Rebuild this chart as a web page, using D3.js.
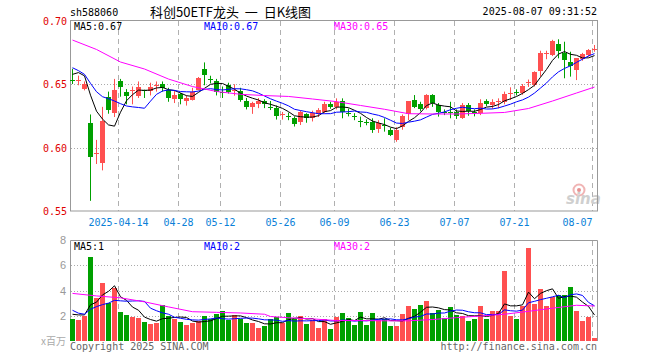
<!DOCTYPE html>
<html>
<head>
<meta charset="utf-8">
<script src="https://cdn.jsdelivr.net/npm/d3@7"></script>
<style>
body { margin: 0; background: #fff; }
svg text { font-family: "DejaVu Sans Mono", monospace; font-size: 10px; }
</style>
</head>
<body>
<div id="chart"></div>
<script>
// trading days shown
var dates = [
  "2025-04-01","2025-04-02","2025-04-03","2025-04-07","2025-04-08","2025-04-09","2025-04-10","2025-04-11",
  "2025-04-14","2025-04-15","2025-04-16","2025-04-17","2025-04-18","2025-04-21","2025-04-22","2025-04-23",
  "2025-04-24","2025-04-25","2025-04-28","2025-04-29","2025-04-30",
  "2025-05-06","2025-05-07","2025-05-08","2025-05-09","2025-05-12","2025-05-13","2025-05-14","2025-05-15",
  "2025-05-16","2025-05-19","2025-05-20","2025-05-21","2025-05-22","2025-05-23","2025-05-26","2025-05-27",
  "2025-05-28","2025-05-29","2025-05-30",
  "2025-06-03","2025-06-04","2025-06-05","2025-06-06","2025-06-09","2025-06-10","2025-06-11","2025-06-12",
  "2025-06-13","2025-06-16","2025-06-17","2025-06-18","2025-06-19","2025-06-20","2025-06-23","2025-06-24",
  "2025-06-25","2025-06-26","2025-06-27","2025-06-30",
  "2025-07-01","2025-07-02","2025-07-03","2025-07-04","2025-07-07","2025-07-08","2025-07-09","2025-07-10",
  "2025-07-11","2025-07-14","2025-07-15","2025-07-16","2025-07-17","2025-07-18","2025-07-21","2025-07-22",
  "2025-07-23","2025-07-24","2025-07-25","2025-07-28","2025-07-29","2025-07-30","2025-07-31",
  "2025-08-01","2025-08-04","2025-08-05","2025-08-06","2025-08-07"
];

var open = [
  0.653,0.652,0.646,0.619,0.595,0.588,0.640,0.627,0.652,0.644,
  0.644,0.641,0.645,0.645,0.649,0.650,0.645,0.638,0.642,0.637,
  0.638,0.6455,0.662,0.654,0.652,0.644,0.6495,0.645,0.6445,0.6365,
  0.632,0.6345,0.637,0.632,0.631,0.626,0.6245,0.623,0.6195,0.626,
  0.6227,0.626,0.628,0.6343,0.632,0.637,0.627,0.6245,0.6205,0.620,
  0.620,0.6143,0.618,0.6138,0.606,0.616,0.6264,0.6374,0.6343,0.6313,
  0.6413,0.6335,0.6282,0.6282,0.6282,0.6235,0.6335,0.628,0.627,0.6366,
  0.6335,0.6362,0.636,0.642,0.6437,0.643,0.651,0.6492,0.6602,0.6738,
  0.6728,0.6815,0.6742,0.6671,0.6605,0.6694,0.6728,0.6772
];
var high = [
  0.662,0.6566,0.652,0.626,0.606,0.632,0.644,0.654,0.654,0.646,
  0.648,0.652,0.6455,0.651,0.652,0.652,0.647,0.645,0.643,0.641,
  0.647,0.6555,0.667,0.6565,0.654,0.648,0.651,0.6498,0.647,0.639,
  0.636,0.639,0.638,0.6366,0.633,0.628,0.6275,0.6245,0.629,0.627,
  0.629,0.631,0.636,0.636,0.6387,0.6387,0.6307,0.627,0.6243,0.6222,
  0.623,0.6215,0.623,0.6155,0.616,0.626,0.6366,0.6413,0.636,0.642,
  0.642,0.635,0.630,0.636,0.630,0.635,0.635,0.630,0.638,0.638,
  0.638,0.6387,0.644,0.6474,0.6458,0.650,0.6535,0.660,0.6762,0.6762,
  0.6848,0.6852,0.6833,0.6754,0.6702,0.6745,0.6775,0.6807
];
var low = [
  0.650,0.649,0.645,0.558,0.587,0.582,0.6266,0.624,0.640,0.634,
  0.634,0.639,0.639,0.641,0.644,0.644,0.636,0.635,0.634,0.633,
  0.637,0.645,0.649,0.6505,0.641,0.639,0.6425,0.6408,0.636,0.630,
  0.6265,0.631,0.631,0.6295,0.622,0.622,0.6215,0.6165,0.6177,0.6195,
  0.6205,0.624,0.627,0.6305,0.630,0.623,0.6245,0.6215,0.616,0.6175,
  0.6115,0.6115,0.6125,0.609,0.6045,0.614,0.6215,0.631,0.6285,0.630,
  0.632,0.6243,0.6255,0.623,0.6225,0.6225,0.625,0.6245,0.6255,0.6325,
  0.6305,0.6309,0.634,0.6374,0.641,0.6415,0.6477,0.648,0.6558,0.6695,
  0.672,0.6702,0.6545,0.6558,0.6531,0.6683,0.6715,0.6754
];
var close = [
  0.652,0.653,0.650,0.592,0.596,0.621,0.630,0.645,0.647,0.641,
  0.645,0.648,0.644,0.648,0.6495,0.647,0.639,0.641,0.638,0.639,
  0.644,0.655,0.657,0.6535,0.643,0.6435,0.644,0.6455,0.6375,0.632,
  0.635,0.637,0.6345,0.6315,0.6245,0.6265,0.624,0.6185,0.6277,0.6227,
  0.627,0.6293,0.6343,0.632,0.636,0.628,0.6265,0.624,0.620,0.6197,
  0.614,0.619,0.6175,0.610,0.6138,0.6248,0.6366,0.632,0.6303,0.6413,
  0.6353,0.628,0.628,0.6277,0.6248,0.6335,0.629,0.6275,0.6348,0.6343,
  0.636,0.6366,0.6421,0.6427,0.6433,0.6484,0.6513,0.6592,0.6742,0.6742,
  0.6841,0.6762,0.6689,0.6636,0.6702,0.6736,0.6768,0.6776
];
// closes of the nine sessions before 04-01 (for the first MA points)
var prevCloses = [0.676,0.679,0.663,0.662,0.660,0.646,0.663,0.668,0.659];

// MA30
var ma30Idx = [0,4,8,12,16,20,24,28,32,36,40,44,48,52,56,60,64,68,72,76,80,84,87];
var ma30Val = [0.6846,0.6772,0.6673,0.6618,0.6539,0.6480,0.6441,0.6419,0.6409,0.6402,0.6382,0.6361,
               0.6331,0.6301,0.6266,0.6264,0.6264,0.6269,0.6276,0.6307,0.6366,0.6429,0.6476];

// volume, millions
var volume = [
  1.71,1.63,1.98,6.65,3.41,4.58,3.04,4.2,2.27,2.03,
  1.9,1.79,1.47,1.31,1.39,2.88,1.98,1.77,1.47,1.23,
  1.45,1.58,1.98,1.77,2.11,2.35,1.63,2.09,1.77,1.42,
  1.42,1.02,1.18,1.71,1.9,1.45,2.21,1.71,1.98,1.34,
  1.63,1.02,1.71,0.92,1.9,2.21,1.82,1.23,2.29,1.23,
  2.21,1.69,1.77,1.18,1.18,2.11,2.77,2.51,2.83,3.14,
  2.21,2.43,1.82,2.67,2.03,1.95,1.55,1.77,2.75,1.71,
  2.35,2.35,5.53,1.98,1.71,2.75,7.39,2.91,4.1,2.77,
  3.49,3.62,3.62,4.28,2.35,1.55,1.9,0.2
];
var prevVolume = [3.93,2.78,2.75,1.31,2.98,1.88,1.98,2.65,2.36];
var vma30Idx = [0,4,8,12,16,20,24,28,32,33,36,40,44,48,52,56,60,64,68,72,76,80,84,87];
var vma30Val = [3.77,3.57,3.42,3.1,2.7,2.32,2.27,2.22,2.12,1.94,1.84,1.75,1.62,1.62,1.6,1.6,
                1.7,1.85,1.98,2.12,2.35,2.6,2.83,2.77];
var volMaText = ["MA5:1","MA10:2","MA30:2"];

var priceTicks = [0.70,0.65,0.60,0.55];
var volTicks = [8,6,4,2];
var dateTicks = ["2025-04-14","2025-04-28","2025-05-12","2025-05-26","2025-06-09",
                 "2025-06-23","2025-07-07","2025-07-21","2025-08-07"];
var dateLabels = ["2025-04-14","04-28","05-12","05-26","06-09","06-23","07-07","07-21","08-07"];

var upColor = "#ff5050", downColor = "#00a000";
var W = 660, H = 360;

var svg = d3.select("#chart").append("svg")
  .attr("width", W)
  .attr("height", H);

var x = d3.scaleBand().domain(dates).range([69.5, 597.5]);
function cx(i) { return x(dates[i]) + 3; }

var yP = d3.scaleLinear().domain([0.55, 0.70]).range([211, 20.5]);
var yV = d3.scaleLinear().domain([0, 8]).range([341, 240]);

function movingAvg(prev, vals, n) {
  var all = prev.concat(vals);
  return vals.map(function(v, i) {
    var end = i + prev.length + 1;
    return d3.mean(all.slice(end - n, end));
  });
}
var ma5 = movingAvg(prevCloses, close, 5);
var ma10 = movingAvg(prevCloses, close, 10);
var vma5 = movingAvg(prevVolume, volume, 5);
var vma10 = movingAvg(prevVolume, volume, 10);

// grid
var grid = svg.append("g");
grid.selectAll(".hp").data([0.65, 0.60]).enter().append("line")
  .attr("x1", 71).attr("x2", 597)
  .attr("y1", function(d){ return Math.round(yP(d)) + 0.5; })
  .attr("y2", function(d){ return Math.round(yP(d)) + 0.5; })
  .attr("stroke", "#aaa").attr("stroke-dasharray", "1,2");
grid.selectAll(".hv").data([6, 4, 2]).enter().append("line")
  .attr("x1", 71).attr("x2", 597)
  .attr("y1", function(d){ return Math.round(yV(d)) + 0.5; })
  .attr("y2", function(d){ return Math.round(yV(d)) + 0.5; })
  .attr("stroke", "#aaa").attr("stroke-dasharray", "1,2");
dateTicks.forEach(function(d) {
  var gx = x(d) + 1;
  grid.append("line").attr("x1", gx).attr("x2", gx).attr("y1", 21).attr("y2", 211)
    .attr("stroke", "#b0b0b0").attr("stroke-dasharray", "5,4");
  grid.append("line").attr("x1", gx).attr("x2", gx).attr("y1", 241).attr("y2", 341)
    .attr("stroke", "#b0b0b0").attr("stroke-dasharray", "5,4");
});

// sina watermark
svg.append("circle").attr("cx", 579).attr("cy", 190).attr("r", 5.5)
  .attr("fill", "none").attr("stroke", "#f0b4b4").attr("stroke-width", 2);
svg.append("circle").attr("cx", 579).attr("cy", 190).attr("r", 2).attr("fill", "#e89090");
svg.append("text").attr("x", 566).attr("y", 204)
  .style("font-family", "'DejaVu Sans', sans-serif").style("font-size", "15px")
  .style("font-weight", "bold").style("font-style", "italic")
  .attr("fill", "#cfcfcf").text("sina");

// frames
svg.append("rect").attr("x", 70.5).attr("y", 20.5).attr("width", 527).attr("height", 190.5)
  .attr("fill", "none").attr("stroke", "#999");
svg.append("path").attr("d", "M70.5,341V240.5H597.5V341")
  .attr("fill", "none").attr("stroke", "#999");

// candles
var idx = d3.range(dates.length);
var candles = svg.append("g");
candles.selectAll("line").data(idx).enter().append("line")
  .attr("x1", cx).attr("x2", cx)
  .attr("y1", function(i){ return yP(high[i]); })
  .attr("y2", function(i){ return yP(low[i]); })
  .attr("stroke", function(i){ return close[i] >= open[i] ? upColor : downColor; });
candles.selectAll("rect").data(idx).enter().append("rect")
  .attr("x", function(i){ return cx(i) - 2.5; })
  .attr("width", 5)
  .attr("y", function(i){ return Math.round(yP(Math.max(open[i], close[i]))); })
  .attr("height", function(i){
    return Math.max(1, Math.round(yP(Math.min(open[i], close[i])) - yP(Math.max(open[i], close[i]))));
  })
  .attr("fill", function(i){ return close[i] >= open[i] ? upColor : downColor; });

// volume bars
svg.append("g").selectAll("rect").data(idx).enter().append("rect")
  .attr("x", function(i){ return cx(i) - 2.5; })
  .attr("width", 5)
  .attr("y", function(i){ return Math.round(yV(volume[i])); })
  .attr("height", function(i){ return 341 - Math.round(yV(volume[i])); })
  .attr("fill", function(i){ return close[i] >= open[i] ? upColor : downColor; });

// MA lines
function drawLine(xs, ys, yScale, color) {
  var line = d3.line().x(function(d){ return d[0]; }).y(function(d){ return yScale(d[1]); });
  svg.append("path")
    .datum(xs.map(function(v, k){ return [v, ys[k]]; }))
    .attr("d", line)
    .attr("fill", "none")
    .attr("stroke", color)
    .attr("stroke-width", 1);
}
var allX = idx.map(cx);
drawLine(allX, ma5, yP, "#000");
drawLine(allX, ma10, yP, "#0000ff");
drawLine(ma30Idx.map(cx), ma30Val, yP, "#ff00ff");
drawLine(allX, vma5, yV, "#000");
drawLine(allX, vma10, yV, "#0000ff");
drawLine(vma30Idx.map(cx), vma30Val, yV, "#ff00ff");

// axis labels
svg.selectAll(".pl").data(priceTicks).enter().append("text")
  .attr("x", 67).attr("y", function(d){ return yP(d) + 4; })
  .attr("text-anchor", "end").attr("fill", "#e00000")
  .text(function(d){ return d3.format(".2f")(d); });
svg.selectAll(".vl").data(volTicks).enter().append("text")
  .attr("x", 66).attr("y", function(d){ return yV(d) + 4; })
  .attr("text-anchor", "end").attr("fill", "#999")
  .style("font-family", "'Liberation Sans', sans-serif").style("font-size", "11px")
  .text(function(d){ return d; });
svg.append("text").attr("x", 66).attr("y", 345).attr("text-anchor", "end").attr("fill", "#aaa")
  .style("font-family", "'Noto Sans CJK SC', sans-serif").style("font-size", "10px").text("x百万");

dateTicks.forEach(function(d, k) {
  var last = k === dateTicks.length - 1;
  svg.append("text")
    .attr("x", x(d) + 1)
    .attr("y", 226)
    .attr("text-anchor", last ? "end" : "middle")
    .attr("fill", "#0a7fd8")
    .text(dateLabels[k]);
});

// legends
var f2 = d3.format(".2f");
svg.append("text").attr("x", 74).attr("y", 30).attr("fill", "#000").text("MA5:" + f2(ma5[ma5.length - 1]));
svg.append("text").attr("x", 204).attr("y", 30).attr("fill", "#0000ff").text("MA10:" + f2(ma10[ma10.length - 1]));
svg.append("text").attr("x", 334).attr("y", 30).attr("fill", "#ff00ff").text("MA30:" + f2(ma30Val[ma30Val.length - 1]));
svg.append("text").attr("x", 74).attr("y", 250).attr("fill", "#000").text(volMaText[0]);
svg.append("text").attr("x", 204).attr("y", 250).attr("fill", "#0000ff").text(volMaText[1]);
svg.append("text").attr("x", 334).attr("y", 250).attr("fill", "#ff00ff").text(volMaText[2]);

// header / footer
svg.append("text").attr("x", 70).attr("y", 16).attr("fill", "#000").text("sh588060");
svg.append("text").attr("x", 150).attr("y", 17).attr("fill", "#000")
  .style("font-family", "'Noto Sans CJK SC', sans-serif").style("font-size", "13px")
  .style("white-space", "pre")
  .text("科创50ETF龙头  一  日K线图");
svg.append("text").attr("x", 597).attr("y", 15).attr("text-anchor", "end").attr("fill", "#000")
  .text("2025-08-07 09:31:52");
svg.append("text").attr("x", 70).attr("y", 350).attr("fill", "#666").text("Copyright 2025 SINA.COM");
svg.append("text").attr("x", 597).attr("y", 350).attr("text-anchor", "end").attr("fill", "#666")
  .text("http://finance.sina.com.cn");
</script>
</body>
</html>
